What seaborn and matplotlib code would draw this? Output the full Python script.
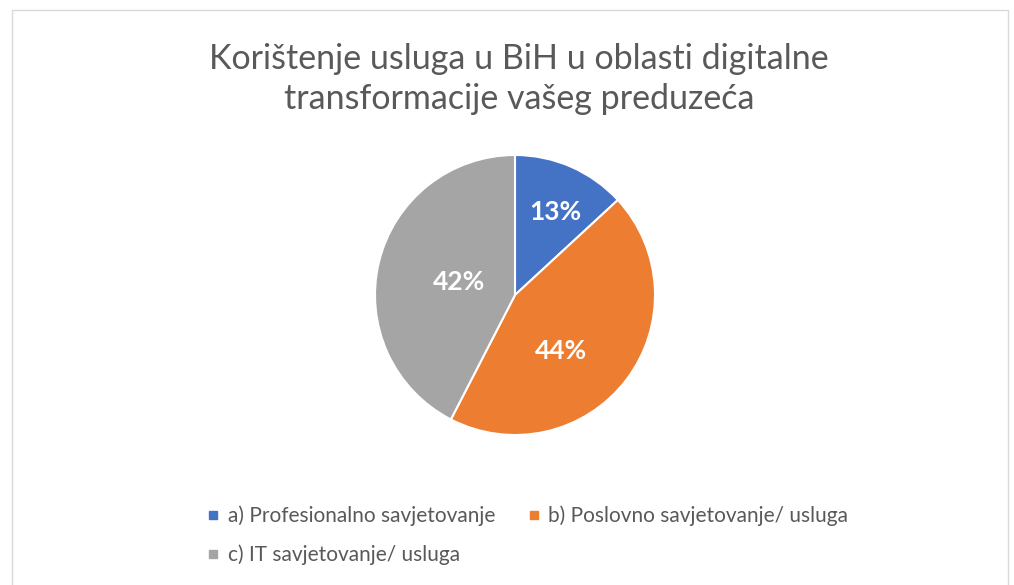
import matplotlib
matplotlib.use("Agg")
import matplotlib.pyplot as plt
import seaborn as sns
from matplotlib.lines import Line2D
from matplotlib.patches import Rectangle

# data
categories = ["a) Profesionalno savjetovanje",
              "b) Poslovno savjetovanje/ usluga",
              "c) IT savjetovanje/ usluga"]
shares = [13, 44, 42]
colors = ["#4472C4", "#ED7D31", "#A5A5A5"]

title = "Korištenje usluga u BiH u oblasti digitalne\ntransformacije vašeg preduzeća"

sns.set_theme(style="white")
plt.rcParams['font.family'] = ['Lato', 'DejaVu Sans']

W, H = 1014, 585
fig = plt.figure(figsize=(W / 100, H / 100), dpi=100)

# light frame like the office chart area
fig.patches.append(Rectangle((12 / W, -0.01), (1008 - 12) / W, 1.01 - 10 / H,
                             transform=fig.transFigure, fill=False,
                             edgecolor="#D9D9D9", linewidth=1))

# pie centered at (515, 295) px, radius 140 px
cx, cy, r = 515, 295, 140
ax = fig.add_axes([(cx - r) / W, (H - cy - r) / H, 2 * r / W, 2 * r / H])
wedges, texts, autotexts = ax.pie(shares, colors=colors, startangle=90,
                                  counterclock=False, radius=1,
                                  autopct='%1.0f%%', pctdistance=0.6,
                                  wedgeprops=dict(edgecolor="white", linewidth=1.5),
                                  textprops=dict(color="white", fontsize=19,
                                                 fontweight="bold"))
ax.set_xlim(-1, 1)
ax.set_ylim(-1, 1)

# label placement (best fit, as in the original)
label_pos = [(0.29, 0.59), (0.33, -0.40), (-0.40, 0.09)]
for t, p in zip(autotexts, label_pos):
    t.set_position(p)
    t.set_ha("center")
    t.set_va("center")

fig.text(519 / W, 1 - 79 / H, title, ha="center", va="center",
         fontsize=24.5, color="#595959", linespacing=1.32)

# legend fills column-wise, so order a, c, b gives rows "a b" / "c"
order = [0, 2, 1]
handles = [Line2D([], [], marker="s", linestyle="", markersize=6,
                  markerfacecolor=colors[i], markeredgecolor=colors[i]) for i in order]
fig.legend(handles, [categories[i] for i in order], ncol=2, loc="upper left",
           bbox_to_anchor=(188 / W, 1 - 487 / H), frameon=False,
           fontsize=15, labelcolor="#595959", handlelength=0.6,
           handletextpad=0.4, columnspacing=1.55, labelspacing=0.88)

fig.savefig("out.png", dpi=100, facecolor="white")
